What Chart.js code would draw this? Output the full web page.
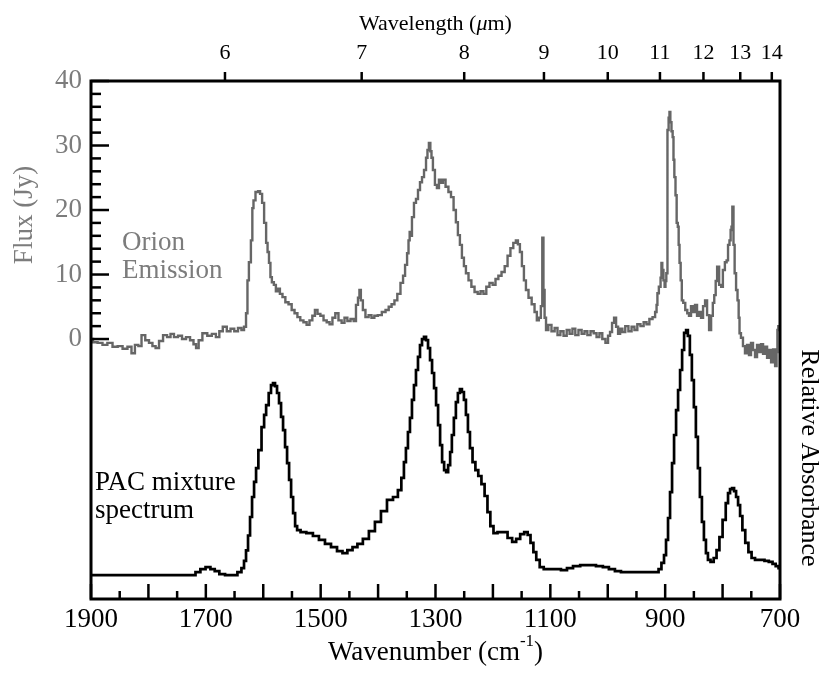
<!DOCTYPE html>
<html>
<head>
<meta charset="utf-8">
<title>Orion emission vs PAC mixture spectrum</title>
<script src="https://cdn.jsdelivr.net/npm/chart.js@4.4.0/dist/chart.umd.min.js"></script>
<style>
  html, body { margin: 0; padding: 0; background: #fff; }
</style>
</head>
<body>
<canvas id="spectrumChart" width="820" height="673"></canvas>
<script>
// axis labels
var wavenumberLabels = [1900, 1700, 1500, 1300, 1100, 900, 700];
var wavelengthTicks = [6, 7, 8, 9, 10, 11, 12, 13, 14];   // micron, top axis
var fluxLabels = [0, 10, 20, 30, 40];

// Orion emission, [wavenumber cm-1, flux Jy]
var orionSpectrum = [
  [1900, 0.0], [1893, -0.5], [1884, -0.6], [1876, -0.9], [1867, -0.6], [1858, -1.2], [1849, -1.1], [1841, -1.5],
  [1832, -1.2], [1827, -2.2], [1820, -0.9], [1815, -1.1], [1809, 0.6], [1802, -0.2], [1796, -0.6], [1790, -1.1],
  [1785, -1.4], [1778, -0.3], [1771, 0.6], [1764, 0.3], [1759, 0.8], [1752, 0.3], [1745, 0.5], [1738, 0.0],
  [1731, 0.3], [1724, -0.2], [1719, -0.8], [1715, -1.4], [1710, -0.2], [1702, 0.9], [1693, 0.5], [1686, 0.8],
  [1679, 0.3], [1674, 1.2], [1667, 1.9], [1660, 1.2], [1654, 1.6], [1647, 1.2], [1641, 1.7], [1635, 1.4],
  [1632, 1.9], [1628, 4.0], [1627, 9.1], [1623, 11.9], [1620, 15.3], [1618, 20.3], [1616, 21.5], [1611, 22.8],
  [1607, 22.9], [1604, 22.5], [1600, 21.1], [1597, 18.0], [1593, 14.9], [1592, 13.5], [1588, 11.8], [1587, 9.6],
  [1583, 8.8], [1580, 8.4], [1576, 7.4], [1573, 7.8], [1569, 7.0], [1564, 6.5], [1559, 5.7], [1553, 5.4],
  [1548, 4.5], [1543, 4.0], [1538, 3.4], [1533, 2.9], [1527, 2.6], [1522, 2.2], [1517, 2.9], [1512, 3.6],
  [1508, 4.5], [1503, 3.9], [1498, 3.6], [1492, 2.9], [1487, 2.6], [1482, 2.3], [1477, 3.3], [1472, 4.0],
  [1466, 2.9], [1461, 2.5], [1456, 3.3], [1451, 2.8], [1445, 3.1], [1440, 2.8], [1437, 5.3], [1433, 6.4],
  [1432, 7.6], [1428, 6.0], [1425, 4.5], [1419, 3.4], [1414, 3.7], [1409, 3.3], [1404, 3.6], [1397, 3.7],
  [1390, 4.2], [1384, 4.5], [1379, 5.0], [1374, 5.4], [1369, 6.0], [1364, 7.0], [1358, 8.7], [1355, 9.8],
  [1351, 11.5], [1348, 13.3], [1346, 15.3], [1344, 16.6], [1343, 16.0], [1339, 18.9], [1336, 21.1], [1332, 21.7],
  [1329, 23.1], [1325, 24.3], [1322, 25.1], [1318, 26.2], [1315, 28.1], [1313, 29.3], [1310, 30.4], [1308, 29.1],
  [1306, 28.1], [1303, 26.2], [1299, 23.9], [1296, 23.4], [1292, 24.7], [1289, 24.2], [1285, 24.7], [1280, 23.6],
  [1275, 22.8], [1271, 22.0], [1266, 20.0], [1263, 18.1], [1259, 16.1], [1256, 14.6], [1252, 12.6], [1249, 11.3],
  [1245, 10.2], [1240, 9.1], [1235, 8.1], [1229, 7.3], [1224, 7.0], [1219, 7.4], [1214, 7.0], [1209, 8.1],
  [1203, 8.7], [1198, 8.4], [1193, 9.3], [1188, 9.8], [1182, 10.4], [1177, 11.3], [1172, 12.9], [1167, 14.1],
  [1162, 14.9], [1158, 15.3], [1155, 14.7], [1151, 13.5], [1148, 11.3], [1144, 9.1], [1141, 7.6], [1135, 6.4],
  [1130, 5.4], [1125, 4.2], [1122, 2.9], [1118, 3.3], [1115, 5.1], [1113, 15.7], [1111, 7.6], [1109, 3.3],
  [1106, 1.4], [1101, 2.2], [1095, 1.2], [1090, 1.7], [1085, 0.6], [1080, 1.2], [1074, 0.5], [1069, 1.4],
  [1064, 0.8], [1059, 1.6], [1054, 0.6], [1048, 1.4], [1043, 0.8], [1038, 1.2], [1033, 0.6], [1027, 1.2],
  [1022, 0.9], [1017, 0.3], [1012, 0.9], [1007, 0.0], [1001, -0.6], [998, 0.5], [994, 1.1], [991, 2.5],
  [987, 3.3], [984, 1.9], [980, 0.8], [977, 1.6], [972, 1.1], [967, 2.0], [961, 1.2], [956, 1.9],
  [951, 1.4], [946, 2.3], [940, 2.0], [935, 2.6], [930, 2.3], [925, 3.1], [919, 3.4], [916, 4.2],
  [914, 5.3], [913, 7.1], [909, 8.1], [907, 9.5], [906, 11.8], [904, 10.7], [902, 9.1], [900, 8.1],
  [899, 9.0], [897, 10.2], [895, 32.4], [893, 34.3], [892, 35.2], [890, 33.6], [888, 32.2], [886, 31.3],
  [885, 27.8], [883, 25.1], [881, 22.3], [879, 18.0], [877, 17.4], [876, 14.6], [874, 11.8], [872, 9.1],
  [870, 6.0], [867, 5.6], [863, 4.5], [860, 4.0], [857, 3.6], [853, 5.1], [850, 4.2], [846, 5.3],
  [843, 3.6], [839, 4.2], [836, 3.3], [832, 5.1], [829, 6.0], [825, 3.7], [822, 1.4], [818, 3.6],
  [816, 5.6], [813, 6.8], [811, 9.0], [808, 11.2], [804, 8.4], [801, 8.1], [798, 10.7], [794, 11.9],
  [792, 12.2], [789, 14.6], [787, 15.3], [785, 16.9], [784, 17.4], [782, 20.5], [780, 14.6], [778, 10.2],
  [775, 7.6], [773, 6.0], [771, 3.3], [770, 0.9], [766, 0.2], [763, -1.1], [759, -2.2], [756, -0.9],
  [752, -2.5], [749, -0.6], [745, -1.7], [742, -2.8], [738, -0.9], [735, -2.0], [731, -0.8], [728, -2.3],
  [724, -1.2], [721, -2.9], [717, -1.7], [714, -3.6], [710, -1.6], [707, -4.2], [705, -2.0], [704, 1.4],
  [702, 2.0], [700, 1.4]
];

// PAC mixture, [wavenumber cm-1, relative absorbance]
var pacSpectrum = [
  [1900, 0], [1722, 0], [1714, 0.012], [1705, 0.024], [1696, 0.032], [1688, 0.024], [1681, 0.016], [1672, 0.004],
  [1661, 0], [1649, 0], [1641, 0.012], [1635, 0.028], [1632, 0.057], [1628, 0.10], [1625, 0.16], [1621, 0.235],
  [1618, 0.316], [1614, 0.377], [1611, 0.433], [1606, 0.506], [1600, 0.599], [1597, 0.648], [1593, 0.688], [1588, 0.737],
  [1585, 0.769], [1581, 0.777], [1578, 0.765], [1574, 0.737], [1571, 0.696], [1567, 0.640], [1564, 0.587], [1560, 0.518],
  [1557, 0.453], [1553, 0.385], [1550, 0.316], [1546, 0.251], [1543, 0.198], [1539, 0.182], [1531, 0.174], [1519, 0.170],
  [1508, 0.158], [1498, 0.142], [1487, 0.126], [1477, 0.113], [1466, 0.097], [1458, 0.089], [1449, 0.101], [1440, 0.113],
  [1432, 0.126], [1421, 0.146], [1411, 0.178], [1400, 0.215], [1390, 0.259], [1379, 0.304], [1369, 0.316], [1362, 0.344],
  [1357, 0.393], [1353, 0.457], [1350, 0.514], [1346, 0.579], [1343, 0.636], [1339, 0.709], [1336, 0.769], [1332, 0.830],
  [1329, 0.883], [1325, 0.931], [1322, 0.955], [1318, 0.964], [1315, 0.951], [1311, 0.919], [1308, 0.870], [1304, 0.818],
  [1301, 0.757], [1297, 0.688], [1294, 0.607], [1290, 0.526], [1287, 0.457], [1283, 0.425], [1280, 0.417], [1276, 0.445],
  [1273, 0.498], [1270, 0.567], [1266, 0.636], [1263, 0.700], [1259, 0.737], [1256, 0.753], [1252, 0.741], [1249, 0.709],
  [1245, 0.648], [1242, 0.579], [1238, 0.514], [1233, 0.457], [1228, 0.425], [1223, 0.401], [1217, 0.368], [1212, 0.320],
  [1207, 0.255], [1202, 0.198], [1196, 0.170], [1188, 0.174], [1179, 0.174], [1170, 0.150], [1163, 0.134], [1156, 0.146],
  [1149, 0.166], [1142, 0.174], [1137, 0.162], [1132, 0.130], [1127, 0.093], [1122, 0.061], [1115, 0.032], [1108, 0.024],
  [1097, 0.024], [1087, 0.024], [1076, 0.020], [1066, 0.028], [1055, 0.036], [1041, 0.040], [1027, 0.040], [1014, 0.036],
  [1003, 0.032], [993, 0.024], [982, 0.016], [972, 0.012], [953, 0.012], [930, 0.012], [914, 0.012], [909, 0.024],
  [904, 0.049], [900, 0.081], [897, 0.142], [893, 0.231], [890, 0.336], [886, 0.453], [883, 0.567], [879, 0.668],
  [876, 0.749], [872, 0.830], [869, 0.911], [865, 0.980], [862, 0.992], [859, 0.968], [855, 0.891], [852, 0.789],
  [848, 0.680], [845, 0.559], [841, 0.433], [838, 0.316], [834, 0.215], [831, 0.142], [827, 0.089], [824, 0.061],
  [818, 0.053], [813, 0.069], [808, 0.101], [803, 0.154], [797, 0.223], [792, 0.291], [789, 0.332], [785, 0.348],
  [782, 0.352], [778, 0.340], [775, 0.316], [771, 0.283], [768, 0.239], [763, 0.182], [758, 0.130], [752, 0.093],
  [747, 0.069], [740, 0.061], [731, 0.061], [723, 0.057], [716, 0.053], [710, 0.045], [705, 0.036], [700, 0.028]
];

var serif = '"Liberation Serif", "Times New Roman", serif';
var grayText = '#7c7c7c';
var grayLine = '#666666';

function toPoints(arr) {
    return arr.map(function (p) { return { x: p[0], y: p[1] }; });
}

function strokeLine(c, x1, y1, x2, y2) {
    c.beginPath();
    c.moveTo(x1, y1);
    c.lineTo(x2, y2);
    c.stroke();
}

// frame, inward ticks and all the free text
var framePlugin = {
    id: 'frame',
    afterDatasetsDraw: function (chart) {
        var c = chart.ctx, a = chart.chartArea, s = chart.scales;
        c.save();
        c.strokeStyle = '#000';
        c.lineWidth = 3;
        c.strokeRect(a.left, a.top, a.right - a.left, a.bottom - a.top);

        c.lineWidth = 2.5;
        for (var wn = 700; wn <= 1900; wn += 50) {
            var px = s.x.getPixelForValue(wn);
            strokeLine(c, px, a.bottom, px, a.bottom - (wn % 100 === 0 ? 15 : 8));
        }
        wavelengthTicks.forEach(function (l) {
            var px = s.xTop.getPixelForValue(10000 / l);
            strokeLine(c, px, a.top, px, a.top - 9);
        });
        for (var f = 0; f <= 40; f += 2) {
            var py = s.y.getPixelForValue(f);
            strokeLine(c, a.left, py, a.left + (f % 10 === 0 ? 18 : 10), py);
        }

        var cx = (a.left + a.right) / 2;

        // top title with italic mu
        c.fillStyle = '#000';
        c.textBaseline = 'alphabetic';
        c.textAlign = 'left';
        var f1 = '22px ' + serif, f2 = 'italic 22px ' + serif;
        c.font = f1; var w1 = c.measureText('Wavelength (').width, w3 = c.measureText('m)').width;
        c.font = f2; var w2 = c.measureText('\u03bc').width;
        var x0 = cx - (w1 + w2 + w3) / 2;
        c.font = f1; c.fillText('Wavelength (', x0, 30);
        c.font = f2; c.fillText('\u03bc', x0 + w1, 30);
        c.font = f1; c.fillText('m)', x0 + w1 + w2, 30);

        // bottom title with superscript
        var b1 = '27px ' + serif, b2 = '17px ' + serif;
        c.font = b1; var v1 = c.measureText('Wavenumber (cm').width, v3 = c.measureText(')').width;
        c.font = b2; var v2 = c.measureText('-1').width;
        x0 = cx - (v1 + v2 + v3) / 2;
        c.font = b1; c.fillText('Wavenumber (cm', x0, 660);
        c.font = b2; c.fillText('-1', x0 + v1, 646);
        c.font = b1; c.fillText(')', x0 + v1 + v2, 660);

        // curve labels
        c.font = '27px ' + serif;
        c.fillStyle = grayText;
        c.fillText('Orion', 122, 250);
        c.fillText('Emission', 122, 278);
        c.fillStyle = '#000';
        c.fillText('PAC mixture', 95, 490);
        c.fillText('spectrum', 95, 518);

        // rotated axis titles
        c.textAlign = 'center';
        c.textBaseline = 'middle';
        c.save();
        c.translate(25, 215);
        c.rotate(-Math.PI / 2);
        c.fillStyle = grayText;
        c.fillText('Flux (Jy)', 0, 0);
        c.restore();
        c.save();
        c.translate(809, 458);
        c.rotate(Math.PI / 2);
        c.font = '26px ' + serif;
        c.fillStyle = '#000';
        c.fillText('Relative Absorbance', 0, 0);
        c.restore();

        c.restore();
    }
};

var ctx = document.getElementById('spectrumChart').getContext('2d');
var chart = new Chart(ctx, {
    type: 'line',
    data: {
        datasets: [{
            label: 'Orion Emission',
            data: toPoints(orionSpectrum),
            xAxisID: 'x',
            yAxisID: 'y',
            borderColor: grayLine,
            borderWidth: 2.4,
            pointRadius: 0,
            stepped: 'middle',
            fill: false
        }, {
            label: 'PAC mixture spectrum',
            data: toPoints(pacSpectrum),
            xAxisID: 'x',
            yAxisID: 'yAbs',
            borderColor: '#000',
            borderWidth: 2.7,
            pointRadius: 0,
            stepped: 'middle',
            fill: false
        }]
    },
    options: {
        responsive: false,
        animation: false,
        devicePixelRatio: 1,
        layout: { padding: 0 },
        plugins: {
            legend: { display: false },
            tooltip: { enabled: false }
        },
        scales: {
            x: {
                type: 'linear',
                position: 'bottom',
                reverse: true,
                min: 700,
                max: 1900,
                grid: { display: false, drawTicks: false },
                border: { display: false },
                afterBuildTicks: function (scale) {
                    scale.ticks = wavenumberLabels.map(function (v) { return { value: v }; });
                },
                ticks: {
                    autoSkip: false,
                    maxRotation: 0,
                    padding: 5,
                    color: '#000',
                    font: { family: serif, size: 27 },
                    callback: function (v) { return String(v); }
                },
                afterFit: function (scale) { scale.height = 74; }
            },
            xTop: {
                type: 'linear',
                position: 'top',
                reverse: true,
                min: 700,
                max: 1900,
                grid: { display: false, drawTicks: false },
                border: { display: false },
                afterBuildTicks: function (scale) {
                    scale.ticks = wavelengthTicks.map(function (l) { return { value: 10000 / l }; });
                },
                ticks: {
                    autoSkip: false,
                    maxRotation: 0,
                    padding: 15,
                    color: '#000',
                    font: { family: serif, size: 22 },
                    callback: function (v) { return String(Math.round(10000 / v)); }
                },
                afterFit: function (scale) { scale.height = 81; }
            },
            y: {
                type: 'linear',
                position: 'left',
                min: -40.3,
                max: 40,
                grid: { display: false, drawTicks: false },
                border: { display: false },
                afterBuildTicks: function (scale) {
                    scale.ticks = fluxLabels.map(function (v) { return { value: v }; });
                },
                ticks: {
                    padding: 9,
                    color: grayText,
                    font: { family: serif, size: 27 },
                    callback: function (v) { return String(v); }
                },
                afterFit: function (scale) { scale.width = 91; }
            },
            yAbs: {
                type: 'linear',
                position: 'right',
                min: -0.097,
                max: 2.0,
                grid: { display: false, drawTicks: false },
                border: { display: false },
                ticks: { display: false },
                afterFit: function (scale) { scale.width = 40; }
            }
        }
    },
    plugins: [framePlugin]
});
</script>
</body>
</html>
